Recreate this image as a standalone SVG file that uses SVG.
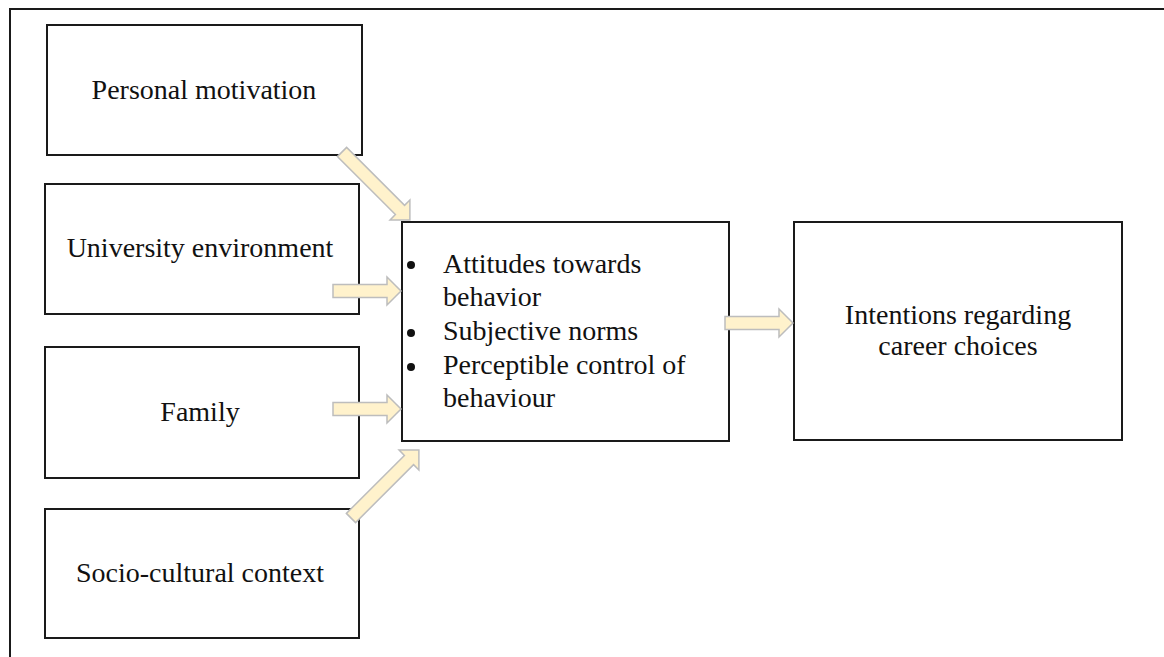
<svg xmlns="http://www.w3.org/2000/svg" width="1164" height="657" viewBox="0 0 1164 657">
<style>
.box{fill:#fff;stroke:#1a1a1a;stroke-width:2}
.frame{fill:none;stroke:#1a1a1a;stroke-width:2}
.t{font-family:'Liberation Serif','Times New Roman','DejaVu Serif',serif;font-size:28px;fill:#111}
.c{text-anchor:middle}
.dot{fill:#111}
.arr{fill:#FFF2CC;stroke:#BDBDBD;stroke-width:1.5;stroke-linejoin:miter}
</style>
<defs>
<path id="blk" d="M0,-6.5 H54 V-14 L68,0 L54,14 V6.5 H0 Z"/>
<path id="blkd" d="M0,-6.5 H82 V-14 L96,0 L82,14 V6.5 H0 Z"/>
</defs>
<rect width="1164" height="657" fill="#fff"/>
<path class="frame" d="M10,657 V9 H1164"/>
<g id="personal-motivation">
<rect class="box" x="47" y="25" width="315" height="130"/>
<text class="t c" x="204" y="99">Personal motivation</text>
</g>
<g id="university-environment">
<rect class="box" x="45" y="184" width="314" height="130"/>
<text class="t c" x="200" y="257">University environment</text>
</g>
<g id="family">
<rect class="box" x="45" y="347" width="314" height="131"/>
<text class="t c" x="200" y="421">Family</text>
</g>
<g id="socio-cultural-context">
<rect class="box" x="45" y="509" width="314" height="129"/>
<text class="t c" x="200" y="582">Socio-cultural context</text>
</g>
<g id="tpb-factors">
<rect class="box" x="402" y="222" width="327" height="219"/>
<circle class="dot" cx="411" cy="265" r="4"/>
<circle class="dot" cx="411" cy="333" r="4"/>
<circle class="dot" cx="411" cy="367" r="4"/>
<text class="t" x="443" y="273">Attitudes towards</text>
<text class="t" x="443" y="306">behavior</text>
<text class="t" x="443" y="340">Subjective norms</text>
<text class="t" x="443" y="374">Perceptible control of</text>
<text class="t" x="443" y="407">behaviour</text>
</g>
<g id="career-intentions">
<rect class="box" x="794" y="222" width="328" height="218"/>
<text class="t c" x="958" y="324">Intentions regarding</text>
<text class="t c" x="958" y="355">career choices</text>
</g>
<g id="connectors">
<use href="#blkd" class="arr" transform="translate(342,152) rotate(45)"/>
<use href="#blk" class="arr" transform="translate(333,291)"/>
<use href="#blk" class="arr" transform="translate(333,409)"/>
<use href="#blkd" class="arr" transform="translate(351,518) rotate(-45)"/>
<use href="#blk" class="arr" transform="translate(725,323)"/>
</g>
</svg>
